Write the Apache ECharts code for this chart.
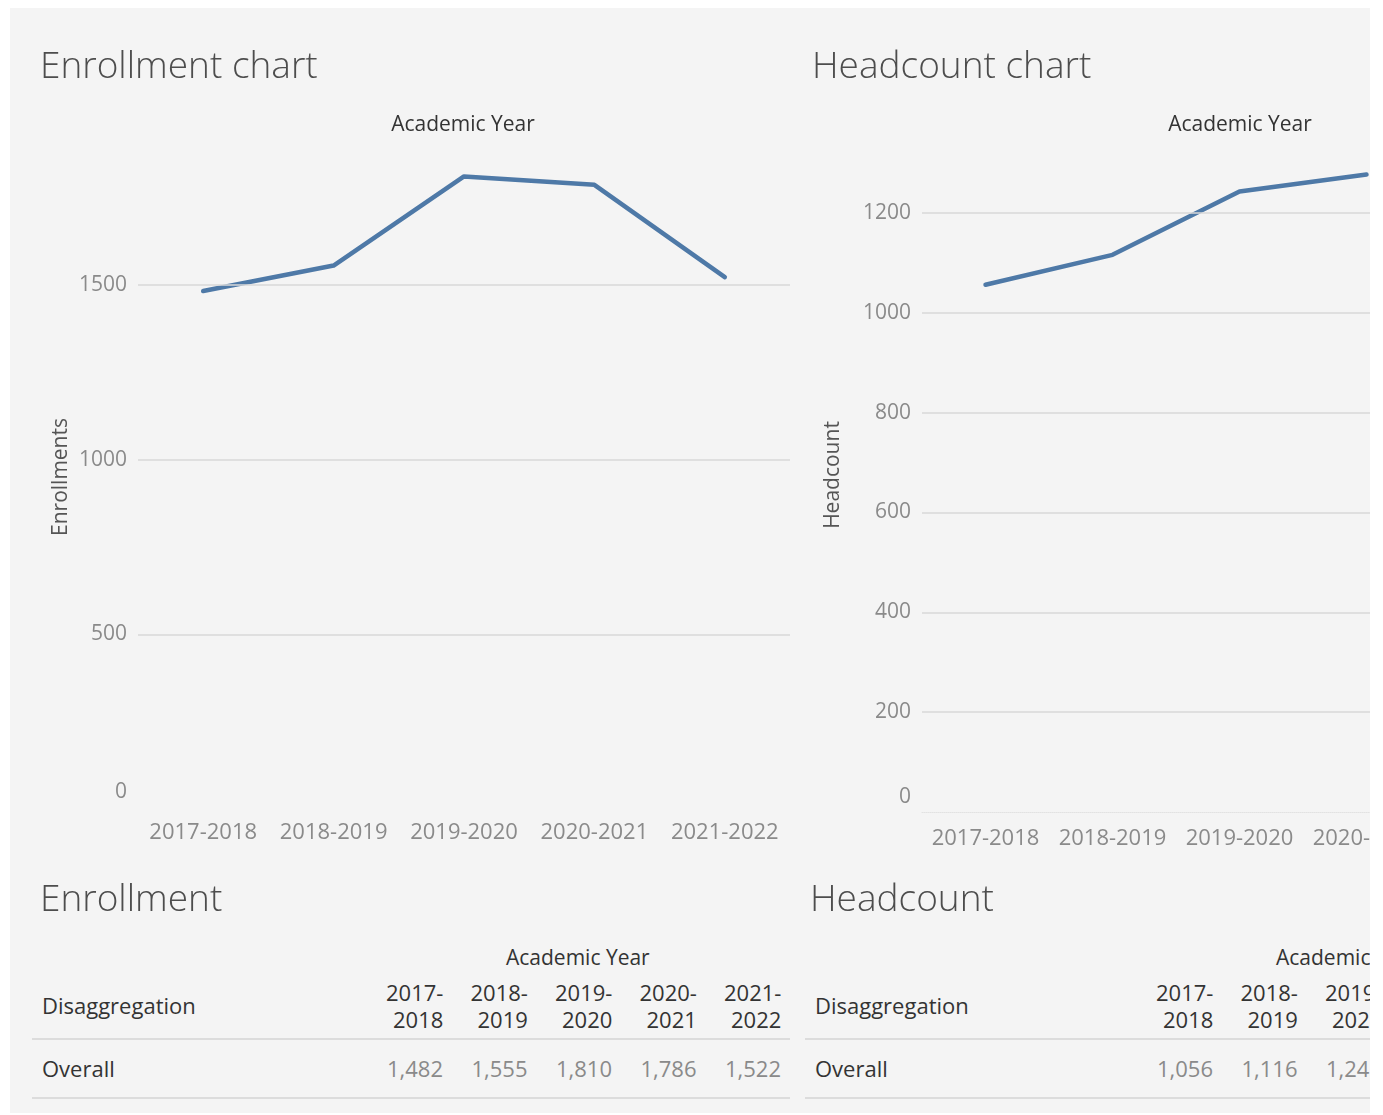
<!DOCTYPE html>
<html><head><meta charset="utf-8">
<script src="https://cdn.jsdelivr.net/npm/echarts@6/dist/echarts.min.js"></script>
<style>
html,body{margin:0;padding:0;background:#fff;width:1383px;height:1115px;overflow:hidden;font-family:'Open Sans',sans-serif;}
#panel{position:absolute;left:10px;top:8px;width:1360px;height:1105px;background:#f4f4f4;overflow:hidden;}
#chart{position:absolute;left:0;top:0;width:1620px;height:880px;}
.t{position:absolute;white-space:nowrap;line-height:1;}
.title{font-size:37px;font-weight:300;color:#4d4d4d;}
.hdr{font-size:22px;color:#333;}
.ay{font-size:21px;color:#333;}
.lbl{font-size:22px;color:#333;}
.val{font-size:22px;color:#8a8a8a;}
.rule{position:absolute;height:2px;background:#dcdcdc;}
</style></head><body>
<div id="panel"><div id="chart"></div><div id="tables"></div></div>
<script>
// ---- data ----
const years = ['2017-2018', '2018-2019', '2019-2020', '2020-2021', '2021-2022'];
const enrollment = [1482, 1555, 1810, 1786, 1522];
const headcount = [1056, 1116, 1243, 1277, null];
const enrollTicks = [0, 500, 1000, 1500];
const headTicks = [0, 200, 400, 600, 800, 1000, 1200];
const rowLabel = 'Overall';

// ---- chart ----
const FONT = "'Open Sans', sans-serif";
const chart = echarts.init(document.getElementById('chart'), null, {renderer: 'canvas'});

function yAxisCfg(gridIndex, ticks, max, name, nameGap, zeroPad) {
  return {
    type: 'value', gridIndex, min: 0, max, interval: ticks[1] - ticks[0],
    name, nameLocation: 'middle', nameGap, nameRotate: 90,
    nameTextStyle: {fontFamily: FONT, fontSize: 21, color: '#555'},
    axisLine: {show: false}, axisTick: {show: false}, splitLine: {show: false},
    axisLabel: {
      showMaxLabel: false, margin: 11, fontFamily: FONT, fontSize: 21, color: '#8a8a8a',
      formatter: v => (ticks.indexOf(v) < 0 ? '' : (v === 0 ? '{z|0}' : String(v))),
      rich: {z: {fontFamily: FONT, fontSize: 21, color: '#8a8a8a', padding: [0, 0, zeroPad, 0]}}
    }
  };
}
function gridLines(ticks) {
  return {
    silent: true, symbol: 'none', label: {show: false},
    lineStyle: {color: '#d8d8d8', width: 1.5, type: 'solid'},
    data: ticks.filter(t => t > 0).map(t => ({yAxis: t}))
  };
}

chart.setOption({
  animation: false,
  grid: [
    {left: 128, width: 652, top: 137, height: 664},
    {left: 912, width: 635, top: 130, height: 674}
  ],
  xAxis: [
    {type: 'category', gridIndex: 0, data: years, boundaryGap: true,
     axisLine: {show: false}, axisTick: {show: false},
     axisLabel: {margin: 13, fontFamily: FONT, fontSize: 22, color: '#8a8a8a', interval: 0}},
    {type: 'category', gridIndex: 1, data: years, boundaryGap: true,
     axisLine: {show: true, lineStyle: {color: '#e2e2e2', type: 'dotted', width: 1}}, axisTick: {show: false},
     axisLabel: {margin: 16, fontFamily: FONT, fontSize: 22, color: '#8a8a8a', interval: 0}}
  ],
  yAxis: [
    yAxisCfg(0, enrollTicks, 1900, 'Enrollments', 66, 34),
    yAxisCfg(1, headTicks, 1350, 'Headcount', 78, 30)
  ],
  graphic: [
    {type: 'text', left: 30, top: 41, style: {text: 'Enrollment chart', font: "300 37px 'Open Sans'", fill: '#4d4d4d'}},
    {type: 'text', left: 802, top: 41, style: {text: 'Headcount chart', font: "300 37px 'Open Sans'", fill: '#4d4d4d'}},
    {type: 'text', x: 453, y: 117, style: {text: 'Academic Year', font: "21px 'Open Sans'", fill: '#333', align: 'center', verticalAlign: 'middle'}},
    {type: 'text', x: 1230, y: 117, style: {text: 'Academic Year', font: "21px 'Open Sans'", fill: '#333', align: 'center', verticalAlign: 'middle'}}
  ],
  series: [
    {type: 'line', xAxisIndex: 0, yAxisIndex: 0, data: enrollment, symbol: 'none',
     lineStyle: {color: '#4e79a7', width: 4.5, cap: 'round', join: 'round'}, markLine: gridLines(enrollTicks), z: 3},
    {type: 'line', xAxisIndex: 1, yAxisIndex: 1, data: headcount, symbol: 'none', connectNulls: false,
     lineStyle: {color: '#4e79a7', width: 4.5, cap: 'round', join: 'round'}, markLine: gridLines(headTicks), z: 3}
  ]
});

// ---- tables ----
const tables = document.getElementById('tables');
function add(cls, text, x, y, align) {
  const d = document.createElement('div');
  d.className = 't ' + cls;
  d.textContent = text;
  tables.appendChild(d);
  const w = d.offsetWidth, h = d.offsetHeight;
  let left = x;
  if (align === 'right') left = x - w;
  else if (align === 'center') left = x - w / 2;
  d.style.left = left + 'px';
  d.style.top = (y - h / 2) + 'px';
}
function rule(x1, x2, y) {
  const d = document.createElement('div');
  d.className = 'rule';
  d.style.left = x1 + 'px'; d.style.width = (x2 - x1) + 'px'; d.style.top = (y - 1) + 'px';
  tables.appendChild(d);
}
function table(title, values, x0, colRight0, lineEnd, titleX) {
  const step = 84.5;
  add('title', title, titleX, 888, 'left');
  const firstLeft = colRight0 - 68;
  const lastRight = colRight0 + step * (years.length - 1);
  add('ay', 'Academic Year', (firstLeft + lastRight) / 2, 949, 'center');
  add('lbl', 'Disaggregation', x0, 997, 'left');
  years.forEach((y, i) => {
    const parts = y.split('-');
    const r = colRight0 + step * i;
    add('hdr', parts[0] + '-', r, 984, 'right');
    add('hdr', parts[1], r, 1011, 'right');
    const v = values[i];
    add('val', v == null ? '' : v.toLocaleString('en-US'), r, 1060, 'right');
  });
  rule(x0 - 10, lineEnd, 1031);
  add('lbl', rowLabel, x0, 1060, 'left');
  rule(x0 - 10, lineEnd, 1090);
}
table('Enrollment', enrollment, 32, 433, 780, 30);
table('Headcount', headcount, 805, 1203, 1400, 800);
</script>
</body></html>
